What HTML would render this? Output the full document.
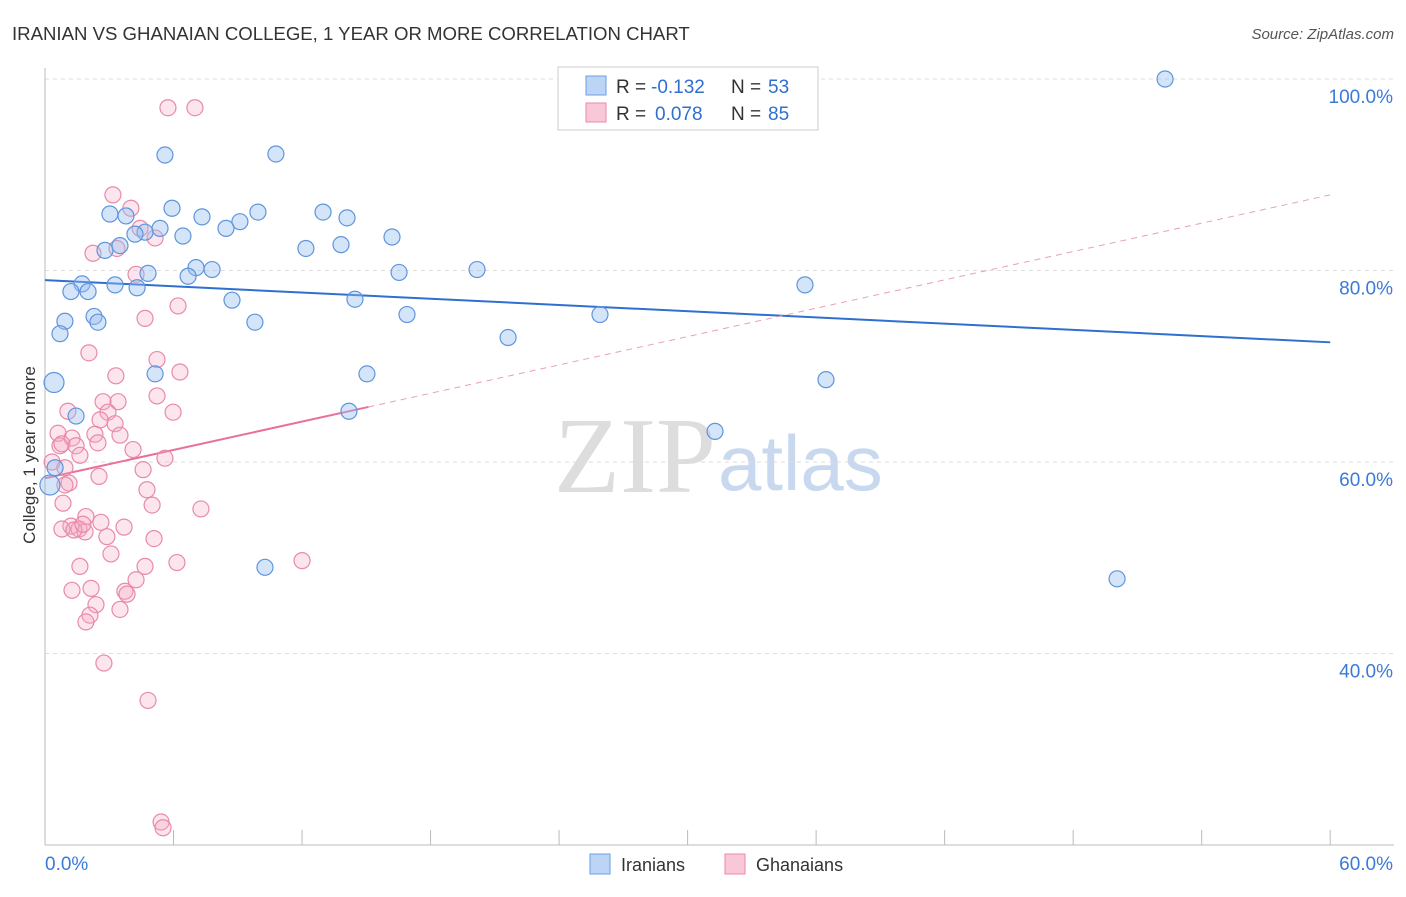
<!DOCTYPE html>
<html><head><meta charset="utf-8"><style>
body{margin:0;background:#fff;font-family:"Liberation Sans",sans-serif;}
</style></head><body>
<svg id="chart" width="1406" height="892" xmlns="http://www.w3.org/2000/svg">
<text x="12" y="40" font-size="18.6" fill="#333">IRANIAN VS GHANAIAN COLLEGE, 1 YEAR OR MORE CORRELATION CHART</text>
<text x="1394" y="39" font-size="15" fill="#555" font-style="italic" text-anchor="end">Source: ZipAtlas.com</text>
<text x="35" y="455" font-size="17" fill="#333" text-anchor="middle" transform="rotate(-90 35 455)">College, 1 year or more</text>
<g>
<text x="635" y="492" font-size="108" fill="#ddd" text-anchor="middle" font-family="Liberation Serif,serif">ZIP</text>
<text x="718" y="490" font-size="78" fill="#c8d8ef">atlas</text>
</g>
<g id="grid"></g><g id="axes"></g><g id="trends"></g><g id="pts"></g>
<g>
<rect x="558" y="67" width="260" height="63" fill="#fff" stroke="#ccc"/>
<rect x="586" y="76" width="20" height="19" fill="#bcd4f5" stroke="#6a9fe0"/>
<rect x="586" y="103" width="20" height="19" fill="#f9c8d8" stroke="#e88aa8"/>
<text x="616" y="93" font-size="19" fill="#333">R =</text>
<text x="651" y="93" font-size="19" fill="#2f6fd0">-0.132</text>
<text x="731" y="93" font-size="19" fill="#333">N =</text>
<text x="768" y="93" font-size="19" fill="#2f6fd0">53</text>
<text x="616" y="120" font-size="19" fill="#333">R =</text>
<text x="655" y="120" font-size="19" fill="#2f6fd0">0.078</text>
<text x="731" y="120" font-size="19" fill="#333">N =</text>
<text x="768" y="120" font-size="19" fill="#2f6fd0">85</text>
</g>
<g>
<rect x="590" y="854" width="20" height="20" fill="#bcd4f5" stroke="#6a9fe0"/>
<text x="621" y="871" font-size="18" fill="#333">Iranians</text>
<rect x="725" y="854" width="20" height="20" fill="#f9c8d8" stroke="#e88aa8"/>
<text x="756" y="871" font-size="18" fill="#333">Ghanaians</text>
</g>
</svg>
<script>
const yTicks=[100,80,60,40];
const xTickLabels=["0.0%","60.0%"];
const iranX=[52.29,5.60,10.78,3.03,3.78,5.93,7.33,9.10,9.94,12.98,14.10,5.37,4.67,4.20,6.44,8.45,16.20,12.18,13.82,2.80,3.50,4.81,7.05,7.80,6.68,16.53,20.17,1.73,3.27,4.30,1.21,2.01,8.73,14.47,35.48,16.90,25.91,2.29,0.93,2.47,9.80,0.70,21.62,0.42,5.14,15.03,36.46,1.45,14.19,31.28,0.47,0.23,10.27,50.05];
const iranY=[100,92.06,92.17,85.9,85.7,86.5,85.6,85.1,86.1,86.1,85.5,84.4,84.0,83.8,83.6,84.4,83.5,82.3,82.7,82.1,82.6,79.7,80.3,80.1,79.4,79.8,80.1,78.6,78.5,78.2,77.8,77.8,76.9,77.0,78.5,75.4,75.4,75.2,74.7,74.6,74.6,73.4,73.0,68.3,69.2,69.2,68.6,64.8,65.3,63.2,59.4,57.6,49.0,47.8];
const ghanaX=[5.74,7.00,3.17,4.01,4.44,5.14,2.24,3.36,4.25,6.21,4.67,2.05,5.23,6.30,3.31,2.71,3.41,5.23,1.07,2.94,5.98,2.57,3.27,0.61,2.33,3.50,1.26,0.70,0.79,1.45,2.47,4.11,1.63,5.60,0.33,0.93,4.58,2.52,1.12,0.93,4.76,0.84,5.00,7.28,1.91,2.61,1.21,0.79,1.59,1.87,1.35,3.69,1.77,5.09,2.89,3.08,1.63,4.67,6.16,12.0,4.25,2.15,1.26,3.73,3.83,2.38,2.10,1.91,3.50,2.75,4.81,5.42,5.51];
const ghanaY=[97.0,97.0,87.9,86.5,84.4,83.4,81.8,82.3,79.6,76.3,75.0,71.4,70.7,69.4,69.0,66.3,66.3,66.9,65.3,65.2,65.2,64.4,64.0,63.0,62.9,62.8,62.5,61.7,61.9,61.7,62.0,61.3,60.7,60.4,60.0,59.4,59.2,58.5,57.8,57.6,57.1,55.7,55.5,55.1,54.3,53.7,53.3,53.0,53.0,52.7,52.9,53.2,53.5,52.0,52.2,50.4,49.1,49.1,49.5,49.7,47.7,46.8,46.6,46.5,46.2,45.1,44.0,43.3,44.6,39.0,35.1,22.4,21.8];
const iranTrend=[79.0,72.5];
const ghanaTrend=[58.3,87.9];
const ghanaSolidEnd=15.1;

const NS="http://www.w3.org/2000/svg";
const sx=v=>45+v*21.42;
const sy=v=>79+(100-v)*9.575;
function mk(tag,attrs,parent){const e=document.createElementNS(NS,tag);for(const k in attrs)e.setAttribute(k,attrs[k]);document.getElementById(parent).appendChild(e);return e;}

yTicks.forEach(t=>{
  const l=mk('line',{x1:45,x2:1394,y1:sy(t),y2:sy(t),stroke:'#ddd','stroke-dasharray':'4 4'},'grid');
  
  
  const tx=mk('text',{x:1393,y:sy(t)+24,'font-size':19,fill:'#3b7ad8','text-anchor':'end'},'grid');
  tx.textContent=t.toFixed(1)+'%';
  
  
});
const ax=mk('line',{x1:45,x2:1394,y1:845,y2:845,stroke:'#bbb'},'axes');


const ay=mk('line',{x1:45,x2:45,y1:68,y2:845,stroke:'#bbb'},'axes');


for(let i=0;i<=10;i++){
  const t=mk('line',{x1:sx(i*6),x2:sx(i*6),y1:830,y2:845,stroke:'#bbb'},'axes');
  
  
}
const xl0=mk('text',{x:45,y:870,'font-size':19,fill:'#3b7ad8'},'axes');
xl0.textContent=xTickLabels[0];


const xl1=mk('text',{x:1393,y:870,'font-size':19,fill:'#3b7ad8','text-anchor':'end'},'axes');
xl1.textContent=xTickLabels[1];



ghanaX.forEach((x,i)=>{
  const c=mk('circle',{cx:sx(x),cy:sy(ghanaY[i]),r:8,fill:'rgba(245,170,195,0.3)',stroke:'#e88aa8','stroke-width':1.2},'pts');
  
  
});
iranX.forEach((x,i)=>{
  const big=(i===43||i===51);
  const c=mk('circle',{cx:sx(x),cy:sy(iranY[i]),r:big?10:8,fill:'rgba(150,190,240,0.4)',stroke:'#5f95dc','stroke-width':1.2},'pts');
  
  
});
const bt=mk('line',{x1:sx(0),y1:sy(iranTrend[0]),x2:sx(60),y2:sy(iranTrend[1]),stroke:'#2f6fd0','stroke-width':2},'trends');


const gy=v=>ghanaTrend[0]+(ghanaTrend[1]-ghanaTrend[0])*v/60;
const pt=mk('line',{x1:sx(0),y1:sy(gy(0)),x2:sx(ghanaSolidEnd),y2:sy(gy(ghanaSolidEnd)),stroke:'#e8709a','stroke-width':2},'trends');


const pd=mk('line',{x1:sx(ghanaSolidEnd),y1:sy(gy(ghanaSolidEnd)),x2:sx(60),y2:sy(gy(60)),stroke:'#e8a0b8','stroke-width':1,'stroke-dasharray':'6 5'},'trends');


</script>
</body></html>
